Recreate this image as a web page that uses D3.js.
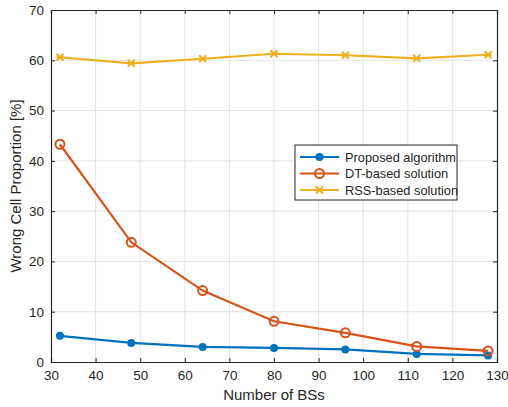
<!DOCTYPE html>
<html>
  <head>
    <script src="https://d3js.org/d3.v7.min.js"></script>
    <style>
      body { margin: 0; background: #fff; }
      text { font-family: "Liberation Sans", Arial, sans-serif; fill: #262626; }
    </style>
  </head>
  <body>
    <script>

const bsCounts = [32, 48, 64, 80, 96, 112, 128];
const proposed = [5.2, 3.8, 3.0, 2.8, 2.5, 1.6, 1.3];
const dtBased = [43.3, 23.8, 14.2, 8.1, 5.8, 3.1, 2.2];
const rssBased = [60.6, 59.4, 60.3, 61.3, 61.0, 60.4, 61.1];
const xTicks = [30, 40, 50, 60, 70, 80, 90, 100, 110, 120, 130];
const yTicks = [0, 10, 20, 30, 40, 50, 60, 70];

const series = [
  { name: "Proposed algorithm", values: proposed, color: "#0072BD", marker: "dot" },
  { name: "DT-based solution", values: dtBased, color: "#D95319", marker: "circle" },
  { name: "RSS-based solution", values: rssBased, color: "#EDB120", marker: "cross" }
];

const width = 508, height = 407;
const mLeft = 51, mRight = 497, mTop = 10, mBottom = 362;

const x = d3.scaleLinear().domain([30, 130]).range([mLeft, mRight]);
const y = d3.scaleLinear().domain([0, 70]).range([mBottom, mTop]);

const svg = d3.select("body").append("svg")
    .attr("width", width)
    .attr("height", height);

// grid
svg.append("g").selectAll("line")
  .data(xTicks.slice(1, -1))
  .enter().append("line")
    .attr("x1", d => x(d)).attr("x2", d => x(d))
    .attr("y1", mTop).attr("y2", mBottom)
    .attr("stroke", "#e3e3e3").attr("stroke-width", 1);
svg.append("g").selectAll("line")
  .data(yTicks.slice(1, -1))
  .enter().append("line")
    .attr("x1", mLeft).attr("x2", mRight)
    .attr("y1", d => y(d)).attr("y2", d => y(d))
    .attr("stroke", "#e3e3e3").attr("stroke-width", 1);

// axes
const xAxis = svg.append("g")
  .attr("transform", `translate(0,${mBottom})`)
  .call(d3.axisBottom(x).tickValues(xTicks).tickSize(-4).tickPadding(8));
const xTop = svg.append("g")
  .attr("transform", `translate(0,${mTop})`)
  .call(d3.axisTop(x).tickValues(xTicks).tickSize(-4).tickFormat(""));
const yAxis = svg.append("g")
  .attr("transform", `translate(${mLeft},0)`)
  .call(d3.axisLeft(y).tickValues(yTicks).tickSize(-4).tickPadding(7));
const yRight = svg.append("g")
  .attr("transform", `translate(${mRight},0)`)
  .call(d3.axisRight(y).tickValues(yTicks).tickSize(-4).tickFormat(""));

[xAxis, xTop, yAxis, yRight].forEach(g => {
  g.select(".domain").attr("stroke", "#262626").attr("stroke-width", 1.2);
  g.selectAll(".tick line").attr("stroke", "#262626");
  g.selectAll(".tick text")
    .attr("font-size", 13.5)
    .attr("font-family", "Liberation Sans, Arial, sans-serif")
    .attr("fill", "#262626");
});

// lines
const line = d3.line()
  .x((d, i) => x(bsCounts[i]))
  .y(d => y(d));

function drawMarker(g, marker, color, cx, cy) {
  if (marker === "dot") {
    g.append("circle").attr("cx", cx).attr("cy", cy).attr("r", 4)
      .attr("fill", color);
  } else if (marker === "circle") {
    g.append("circle").attr("cx", cx).attr("cy", cy).attr("r", 4.5)
      .attr("fill", "none").attr("stroke", color).attr("stroke-width", 2);
  } else {
    const s = 3.5;
    g.append("path")
      .attr("d", `M${cx - s},${cy - s}L${cx + s},${cy + s}M${cx - s},${cy + s}L${cx + s},${cy - s}M${cx - s},${cy}L${cx + s},${cy}`)
      .attr("stroke", color).attr("stroke-width", 2).attr("fill", "none");
  }
}

series.forEach(s => {
  const g = svg.append("g");
  g.append("path")
    .attr("d", line(s.values))
    .attr("fill", "none")
    .attr("stroke", s.color)
    .attr("stroke-width", 2.2);
  s.values.forEach((v, i) => drawMarker(g, s.marker, s.color, x(bsCounts[i]), y(v)));
});

// legend
const lg = svg.append("g").attr("transform", "translate(295,145)");
lg.append("rect")
  .attr("width", 162).attr("height", 55)
  .attr("fill", "#fff").attr("stroke", "#262626").attr("stroke-width", 1);
series.forEach((s, i) => {
  const ly = 12 + i * 16.5;
  lg.append("line")
    .attr("x1", 5).attr("x2", 44).attr("y1", ly).attr("y2", ly)
    .attr("stroke", s.color).attr("stroke-width", 2.2);
  drawMarker(lg, s.marker, s.color, 24.5, ly);
  lg.append("text")
    .attr("x", 50).attr("y", ly + 4.5)
    .attr("font-size", 12.8)
    .text(s.name);
});

// labels
svg.append("text")
  .attr("x", (mLeft + mRight) / 2).attr("y", 400)
  .attr("text-anchor", "middle")
  .attr("font-size", 15)
  .text("Number of BSs");
svg.append("text")
  .attr("transform", `translate(21,${(mTop + mBottom) / 2}) rotate(-90)`)
  .attr("text-anchor", "middle")
  .attr("font-size", 15)
  .text("Wrong Cell Proportion [%]");

    </script>
  </body>
</html>
